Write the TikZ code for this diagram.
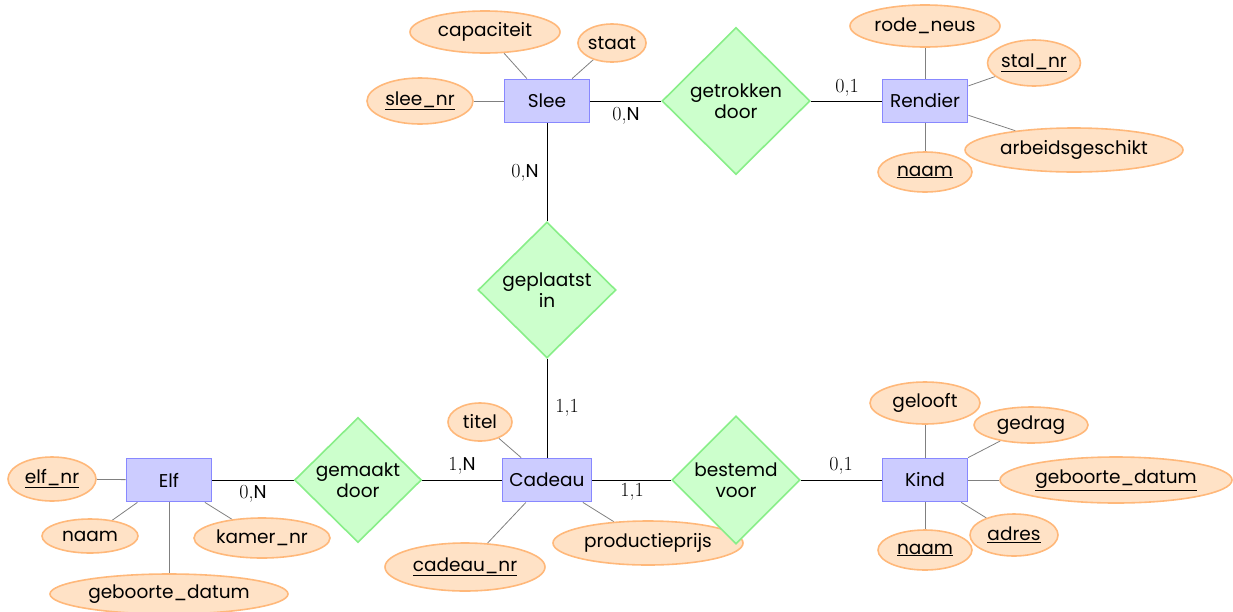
\documentclass[tikz,border=0pt]{standalone}
\usepackage{fontspec}
\usetikzlibrary{shapes.geometric,backgrounds}
\newfontfamily\geo{Poppins}
\definecolor{entFill}{HTML}{CCCCFF}
\definecolor{entLine}{HTML}{8888FF}
\definecolor{relFill}{HTML}{CCFFCC}
\definecolor{relLine}{HTML}{88EE88}
\definecolor{attFill}{HTML}{FFE2C6}
\definecolor{attLine}{HTML}{FFB87A}
\definecolor{attEdge}{HTML}{808080}
\tikzset{
  txt/.style={font=\geo\fontsize{18.5}{21}\selectfont},
  entity/.style={txt,rectangle,draw=entLine,fill=entFill,line width=1.8pt,minimum width=85pt,minimum height=43pt,inner sep=0pt},
  rel/.style={txt,diamond,aspect=1,draw=relLine,fill=relFill,line width=1.6pt,inner sep=0pt,align=center},
  attr/.style={txt,ellipse,draw=attLine,fill=attFill,line width=1.6pt,inner sep=0pt},
  aline/.style={draw=attEdge,line width=0.8pt},
  rline/.style={draw=black,line width=1pt},
  card/.style={font=\fontsize{20}{22}\selectfont,inner sep=0pt}
}
\newcommand{\ul}[1]{\underline{#1}}
\newcommand{\cN}{{\geo\fontsize{18.5}{21}\selectfont N}}
\begin{document}
\begin{tikzpicture}[x=1pt,y=-1pt]
\useasboundingbox (0,0) rectangle (1233,611);
% attributes
\node[attr,minimum width=150pt,minimum height=42pt] (capaciteit) at (485,32) {capaciteit};
\node[attr,minimum width=64pt,minimum height=38pt] (staat) at (612,43) {staat};
\node[attr,minimum width=106pt,minimum height=46pt] (sleenr) at (420,101) {\ul{slee\_nr}};
\node[attr,minimum width=150pt,minimum height=42pt] (rodeneus) at (925,26) {rode\_neus};
\node[attr,minimum width=92pt,minimum height=46pt] (stalnr) at (1034,63) {\ul{stal\_nr}};
\node[attr,minimum width=218pt,minimum height=44pt] (arbeid) at (1074,150) {arbeidsgeschikt};
\node[attr,minimum width=94pt,minimum height=40pt] (rnaam) at (925,172) {\ul{naam}};
\node[attr,minimum width=88pt,minimum height=44pt] (elfnr) at (52,479) {\ul{elf\_nr}};
\node[attr,minimum width=96pt,minimum height=34pt] (enaam) at (90,536) {naam};
\node[attr,minimum width=136pt,minimum height=40pt] (kamernr) at (262,538) {kamer\_nr};
\node[attr,minimum width=238pt,minimum height=40pt] (egeb) at (169,594) {geboorte\_datum};
\node[attr,minimum width=64pt,minimum height=38pt] (titel) at (480,422) {titel};
\node[attr,minimum width=160pt,minimum height=48pt] (cadeaunr) at (465,567) {\ul{cadeau\_nr}};
\node[attr,minimum width=190pt,minimum height=44pt] (prijs) at (648,543) {productieprijs};
\node[attr,minimum width=110pt,minimum height=42pt] (gelooft) at (925,403) {gelooft};
\node[attr,minimum width=114pt,minimum height=36pt] (gedrag) at (1031,425) {gedrag};
\node[attr,minimum width=232pt,minimum height=46pt] (kgeb) at (1116,480) {\ul{geboorte\_datum}};
\node[attr,minimum width=88pt,minimum height=42pt] (adres) at (1014,535) {\ul{adres}};
\node[attr,minimum width=94pt,minimum height=40pt] (knaam) at (925,550) {\ul{naam}};
% entities
\node[entity] (slee) at (547,101) {Slee};
\node[entity] (rendier) at (925,101) {Rendier};
\node[entity] (elf) at (169,480) {Elf};
\node[entity,minimum width=89pt] (cadeau) at (547,480) {Cadeau};
\node[entity] (kind) at (925,480) {Kind};
% relationships
\node[rel,minimum width=148pt,minimum height=147pt] (getrokken) at (736,101) {getrokken\\door};
\node[rel,minimum width=138pt,minimum height=136pt] (geplaatst) at (547,290) {geplaatst\\in};
\node[rel,minimum width=127pt,minimum height=125pt] (gemaakt) at (358,480) {gemaakt\\door};
\node[rel,minimum width=128pt,minimum height=128pt] (bestemd) at (736,480) {bestemd\\voor};
% cardinality labels
\node[card] (c1) at (626,116) {0,\cN};
\node[card] (c2) at (847,88) {0,1};
\node[card] (c3) at (525,173) {0,\cN};
\node[card] (c4) at (567,408) {1,1};
\node[card] (c5) at (253,494) {0,\cN};
\node[card] (c6) at (462,466) {1,\cN};
\node[card] (c7) at (632,492) {1,1};
\node[card] (c8) at (841,466) {0,1};
\begin{pgfonlayer}{background}
\draw[aline] (slee) -- (capaciteit);
\draw[aline] (slee) -- (staat);
\draw[aline] (slee) -- (sleenr);
\draw[aline] (rendier) -- (rodeneus);
\draw[aline] (rendier) -- (stalnr);
\draw[aline] (rendier) -- (arbeid);
\draw[aline] (rendier) -- (rnaam);
\draw[aline] (elf) -- (elfnr);
\draw[aline] (elf) -- (enaam);
\draw[aline] (elf) -- (kamernr);
\draw[aline] (elf) -- (egeb);
\draw[aline] (cadeau) -- (titel);
\draw[aline] (cadeau) -- (cadeaunr);
\draw[aline] (cadeau) -- (prijs);
\draw[aline] (kind) -- (gelooft);
\draw[aline] (kind) -- (gedrag);
\draw[aline] (kind) -- (kgeb);
\draw[aline] (kind) -- (adres);
\draw[aline] (kind) -- (knaam);
\draw[rline] (slee) -- (getrokken);
\draw[rline] (getrokken) -- (rendier);
\draw[rline] (slee) -- (geplaatst);
\draw[rline] (geplaatst) -- (cadeau);
\draw[rline] (elf) -- (gemaakt);
\draw[rline] (gemaakt) -- (cadeau);
\draw[rline] (cadeau) -- (bestemd);
\draw[rline] (bestemd) -- (kind);
\end{pgfonlayer}
\end{tikzpicture}
\end{document}
